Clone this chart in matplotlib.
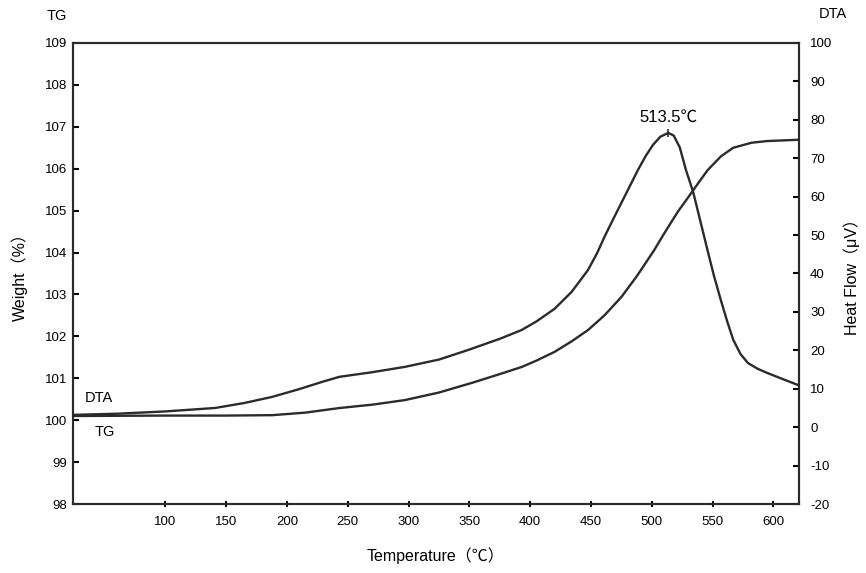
import matplotlib.pyplot as plt

plt.rcParams['font.family'] = ['Liberation Sans', 'Noto Sans CJK JP', 'DejaVu Sans']
plt.rcParams['axes.unicode_minus'] = False

# DTA curve (right axis, heat flow in uV)
dta_temp = [24, 60, 100, 141, 165, 188, 210, 229, 243, 270, 297, 325, 349, 375,
            393, 405, 420, 434, 447.5, 455, 461, 468, 475, 482, 488.5, 495, 501,
            507, 513.5, 518, 523, 528, 534, 540, 546, 551, 557, 562, 567, 573,
            579, 587, 595, 607, 620]
dta_flow = [3.2, 3.5, 4.1, 5.0, 6.3, 7.9, 9.9, 11.8, 13.1, 14.3, 15.7, 17.6, 20.1, 23.0,
            25.3, 27.5, 30.8, 35.2, 40.9, 45.3, 49.5, 54.0, 58.4, 62.8, 66.9, 70.6, 73.5,
            75.6, 76.6, 75.9, 72.8, 67.0, 61.2, 53.5, 45.8, 39.5, 32.8, 27.5, 22.7, 19.0,
            16.7, 15.2, 14.1, 12.6, 11.0]

# TG curve (left axis, weight %)
tg_temp = [24, 100, 150, 188, 215, 243, 270, 297, 325, 352, 375, 393, 405, 420, 434,
           447.5, 461, 475, 488, 502, 509, 515, 522, 529.5, 538, 546, 557, 567, 582,
           595, 620]
tg_weight = [100.10, 100.11, 100.11, 100.12, 100.18, 100.29, 100.37, 100.48, 100.66,
             100.89, 101.10, 101.27, 101.42, 101.63, 101.88, 102.15, 102.50, 102.94,
             103.45, 104.06, 104.40, 104.68, 105.00, 105.30, 105.65, 105.97, 106.30,
             106.50, 106.62, 106.66, 106.69]

peak_temp = 513.5
peak_flow = 76.6

x_ticks = [100, 150, 200, 250, 300, 350, 400, 450, 500, 550, 600]
tg_ticks = list(range(98, 110))
dta_ticks = list(range(-20, 101, 10))

fig = plt.figure(figsize=(8.66, 5.73), dpi=100)
ax1 = fig.add_axes([0.0843, 0.1204, 0.8383, 0.8046])
ax2 = ax1.twinx()

ax1.plot(tg_temp, tg_weight, color='#2b2b2b', lw=1.7, solid_joinstyle='round')
ax2.plot(dta_temp, dta_flow, color='#2b2b2b', lw=1.7, solid_joinstyle='round')
ax2.plot([peak_temp], [peak_flow], marker='|', ms=6, mew=1.2, color='#2b2b2b')

ax1.set_xlim(24, 621)
ax1.set_ylim(98, 109)
ax2.set_ylim(-20, 100)
ax1.set_xticks(x_ticks)
ax1.set_yticks(tg_ticks)
ax2.set_yticks(dta_ticks)

for ax in (ax1, ax2):
    for s in ax.spines.values():
        s.set_linewidth(1.5)
        s.set_color('#2b2b2b')
ax1.tick_params(axis='y', direction='in', length=4, width=1.5, labelsize=9.5, pad=4)
ax2.tick_params(axis='y', direction='in', length=4, width=1.5, labelsize=9.5, pad=8)
ax1.tick_params(axis='x', direction='inout', length=5, width=1.5, labelsize=9.5, pad=6)

ax1.set_xlabel('Temperature（℃）', fontsize=11.5, labelpad=14)
ax1.set_ylabel('Weight（%）', fontsize=11.5, labelpad=12)
ax2.set_ylabel('Heat Flow（μV）', fontsize=11.5, labelpad=8)

ax2.text(peak_temp, 80.7, '513.5℃', ha='center', va='center', fontsize=12)
ax1.text(33.6, 100.53, 'DTA', ha='left', va='center', fontsize=10.5)
ax1.text(42, 99.72, 'TG', ha='left', va='center', fontsize=10.5)

fig.text(57 / 866, 1 - 16 / 573, 'TG', ha='center', va='center', fontsize=10.5)
fig.text(833 / 866, 1 - 14 / 573, 'DTA', ha='center', va='center', fontsize=10.5)

fig.savefig('out.png', dpi=100)
